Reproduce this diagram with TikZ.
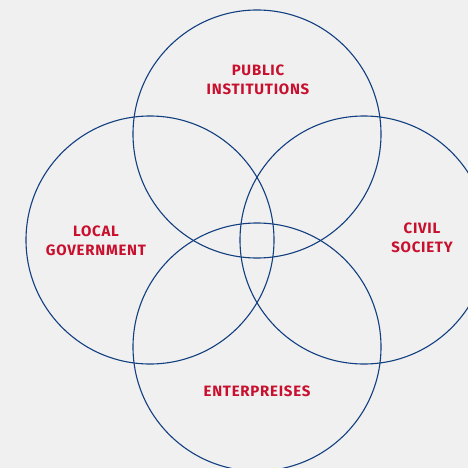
\documentclass[tikz,border=0pt]{standalone}
\usepackage{fontspec}
\setmainfont{Fira Sans}[LetterSpace=5]
\usepackage{tikz}
\definecolor{bgcol}{HTML}{F0F0F0}
\definecolor{ringcol}{HTML}{123F7F}
\definecolor{labelcol}{HTML}{C8102E}
\tikzset{
  ring/.style={draw=ringcol, line width=1.1pt, circle, minimum size=248pt, inner sep=0pt},
  sector/.style={text=labelcol, font=\bfseries\fontsize{15}{19}\selectfont, align=center, inner sep=0pt}
}
\begin{document}
\begin{tikzpicture}[x=1pt,y=-1pt]

      \fill[bgcol] (0,0) rectangle (468,468);
      \useasboundingbox (0,0) rectangle (468,468);

      % the four rings
      \node[ring] at (257,134) (top) {};
      \node[ring] at (150,240) (left) {};
      \node[ring] at (364,240) (right) {};
      \node[ring] at (257,347) (bottom) {};

      % labels inside the rings
      \node[sector] at (258,80) (pub) {PUBLIC\\INSTITUTIONS};
      \node[sector] at (96,241) (gov) {LOCAL\\GOVERNMENT};
      \node[sector] at (422,238) (civ) {CIVIL\\SOCIETY};
      \node[sector] at (257,391) (ent) {ENTERPREISES};

    \end{tikzpicture}
\end{document}
